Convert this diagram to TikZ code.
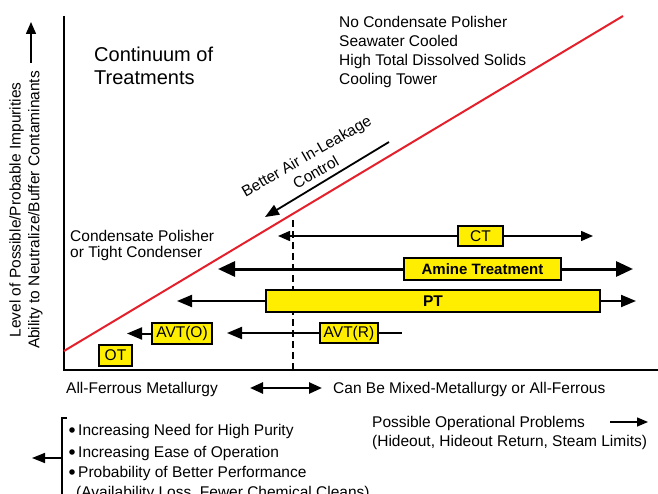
\documentclass[tikz,border=0pt]{standalone}
\usepackage{fontspec}
\setmainfont{Liberation Sans}
\usetikzlibrary{arrows.meta}
\definecolor{boxyellow}{HTML}{FFEE00}
\definecolor{limitred}{HTML}{E3202B}

\begin{document}
\begin{tikzpicture}[x=1pt,y=-1pt,
  lbl/.style={inner sep=0, font=\fontsize{15.5}{18.7}\selectfont, anchor=base west},
  bigttl/.style={inner sep=0, font=\fontsize{20}{23}\selectfont, anchor=base west},
  tbox/.style={draw, fill=boxyellow, line width=1.3pt, inner sep=0,
    font=\fontsize{15.5}{18}\selectfont},
  axisline/.style={line width=2pt},
  thinarr/.style={line width=1.5pt, -{Triangle[length=12pt,width=10pt]}},
  midarr/.style={line width=2pt, -{Triangle[length=15pt,width=12pt]}},
  thickarr/.style={line width=3pt, -{Triangle[length=17pt,width=15pt]}},
  plainline/.style={line width=1.5pt}]
\useasboundingbox (0,0) rectangle (658,494);

% axes
\coordinate (ytop) at (64,16);
\coordinate (origin) at (64,370);
\coordinate (xend) at (658,370);
\draw[axisline] (ytop) -- (origin) -- (xend);

% upper limit line
\coordinate (redA) at (64,351);
\coordinate (redB) at (623,16);
\draw[limitred, line width=2pt] (redA) -- (redB);

% metallurgy boundary
\coordinate (dashT) at (293,220);
\coordinate (dashB) at (293,370);
\draw[line width=1.6pt, dash pattern=on 7pt off 4pt] (dashT) -- (dashB);

% vertical axis label
\node[inner sep=0, font=\fontsize{15.5}{18.7}\selectfont, align=center, rotate=90] (ylab) at (26,210)
  {Level of Possible/Probable Impurities\\Ability to Neutralize/Buffer Contaminants};
\coordinate (yarrB) at (31,63);
\coordinate (yarrT) at (31,22);
\draw[thinarr] (yarrB) -- (yarrT);

% titles and conditions
\node[bigttl] (title1) at (94,62) {Continuum of};
\node[bigttl] (title2) at (94,85) {Treatments};
\node[lbl] (cond1) at (339,28) {No Condensate Polisher};
\node[lbl] (cond2) at (339,47) {Seawater Cooled};
\node[lbl] (cond3) at (339,66) {High Total Dissolved Solids};
\node[lbl] (cond4) at (339,84.5) {Cooling Tower};
\node[lbl] (pol1) at (70,241) {Condensate Polisher};
\node[lbl] (pol2) at (70,258) {or Tight Condenser};

% air in-leakage
\node[inner sep=0, font=\fontsize{15.5}{18.7}\selectfont, align=center, rotate=30] (air) at (311,164)
  {Better Air In-Leakage\\Control};
\coordinate (airA) at (389,142);
\coordinate (airB) at (265,217);
\draw[line width=1.8pt, -{Triangle[length=14pt,width=11pt]}] (airA) -- (airB);

% treatment bars
\node[tbox, minimum width=45, minimum height=20] (ct) at (480.5,236) {CT};
\node[tbox, minimum width=157, minimum height=22, font=\fontsize{15}{18}\selectfont\bfseries] (amine) at (482.5,269) {Amine Treatment};
\node[tbox, minimum width=334, minimum height=22, font=\fontsize{15.5}{18}\selectfont\bfseries] (pt) at (433,301) {PT};
\node[tbox, minimum width=58, minimum height=20] (avtr) at (349,333) {AVT(R)};
\node[tbox, minimum width=60, minimum height=21] (avto) at (182,333.5) {AVT(O)};
\node[tbox, minimum width=33, minimum height=21] (ot) at (115.5,355.5) {OT};

\coordinate (ctL) at (278,236);
\coordinate (ctR) at (593,236);
\draw[thinarr] (ct.west) -- (ctL);
\draw[thinarr] (ct.east) -- (ctR);

\coordinate (amL) at (218,269);
\coordinate (amR) at (633,269);
\draw[thickarr] (amine.west) -- (amL);
\draw[thickarr] (amine.east) -- (amR);

\coordinate (ptL) at (177,301);
\coordinate (ptR) at (636,301);
\draw[midarr] (pt.west) -- (ptL);
\draw[midarr] (pt.east) -- (ptR);

\coordinate (avtrL) at (227,333);
\coordinate (avtrR) at (402,333);
\draw[midarr] (avtr.west) -- (avtrL);
\draw[plainline] (avtr.east) -- (avtrR);

\coordinate (avtoL) at (127,333.5);
\draw[midarr] (avto.west) -- (avtoL);

% metallurgy labels
\node[lbl] (ferrous) at (66,393) {All-Ferrous Metallurgy};
\node[lbl] (mixed) at (333,393) {Can Be Mixed-Metallurgy or All-Ferrous};
\coordinate (dblL) at (250,388);
\coordinate (dblR) at (322,388);
\draw[line width=2.5pt, {Triangle[length=13pt,width=11pt]}-{Triangle[length=13pt,width=11pt]}] (dblL) -- (dblR);

% bottom left list
\coordinate (brT) at (67,418);
\coordinate (brC) at (62,418);
\coordinate (brB) at (62,500);
\draw[plainline] (brT) -- (brC) -- (brB);
\coordinate (brM) at (62,458);
\coordinate (brArr) at (32,458);
\draw[line width=1.5pt, -{Triangle[length=13pt,width=10pt]}] (brM) -- (brArr);

\fill (72,430) circle (2.8pt);
\fill (72,452) circle (2.8pt);
\fill (72,472) circle (2.8pt);
\node[lbl] (need) at (78,435) {Increasing Need for High Purity};
\node[lbl] (ease) at (78,457) {Increasing Ease of Operation};
\node[lbl] (perf) at (78,477) {Probability of Better Performance};
\node[lbl] (avail) at (76,497) {(Availability Loss, Fewer Chemical Cleans)};

% bottom right
\node[lbl] (probs1) at (372,427) {Possible Operational Problems};
\node[lbl] (probs2) at (372,446) {(Hideout, Hideout Return, Steam Limits)};
\coordinate (opA) at (610,422);
\coordinate (opB) at (648,422);
\draw[line width=1.5pt, -{Triangle[length=11pt,width=9pt]}] (opA) -- (opB);
\end{tikzpicture}
\end{document}
